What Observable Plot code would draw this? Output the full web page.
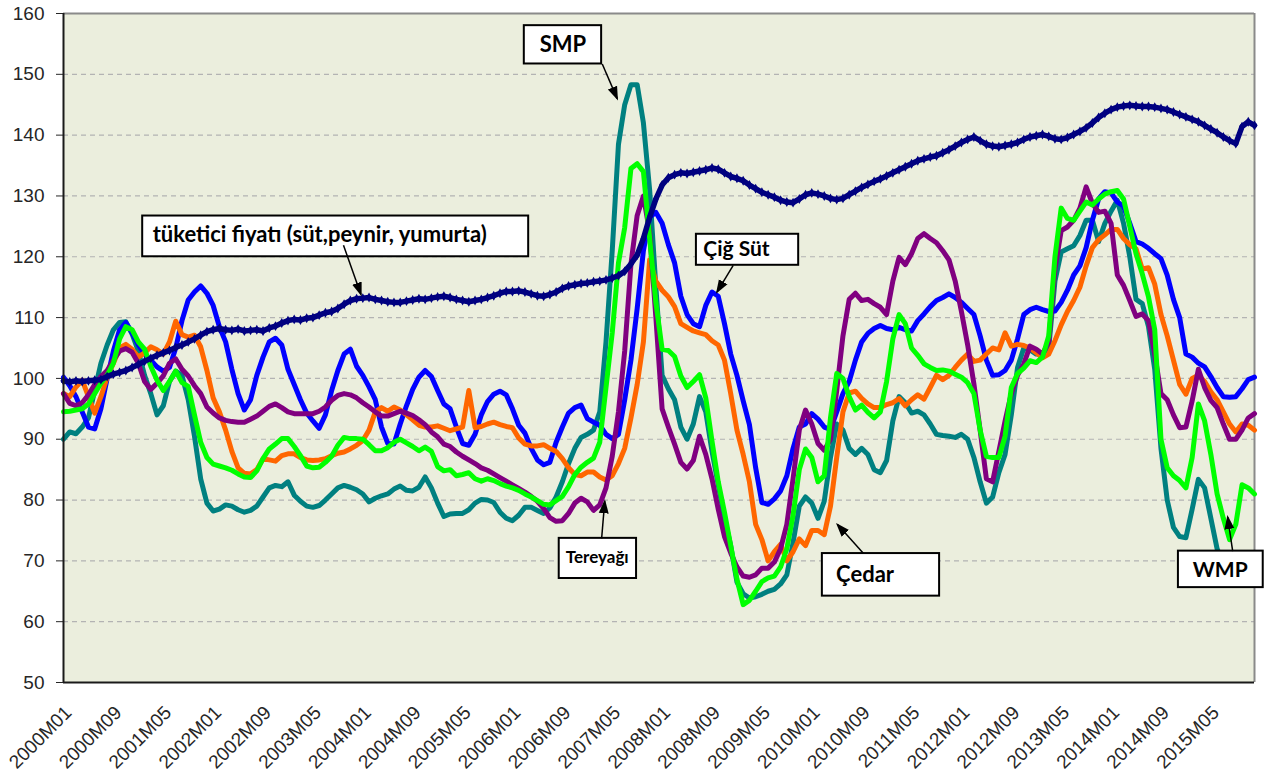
<!DOCTYPE html>
<html>
<head>
<meta charset="utf-8">
<script src="https://cdn.jsdelivr.net/npm/d3@7"></script>
<script src="https://cdn.jsdelivr.net/npm/@observablehq/plot@0.6"></script>
<style>
  html, body { margin: 0; padding: 0; background: #ffffff; }
</style>
</head>
<body>
<div id="chart"></div>
<script>
// ---- categories: monthly periods 2000M01 .. 2015M12 ----
const startYear = 2000, endYear = 2015;
const months = [];
for (let y = startYear; y <= endYear; y++) for (let m = 1; m <= 12; m++) months.push(`${y}M${String(m).padStart(2, "0")}`);

const tickLabels = ["2000M01","2000M09","2001M05","2002M01","2002M09","2003M05","2004M01","2004M09",
  "2005M05","2006M01","2006M09","2007M05","2008M01","2008M09","2009M05","2010M01","2010M09",
  "2011M05","2012M01","2012M09","2013M05","2014M01","2014M09","2015M05"];
const yTicks = [50,60,70,80,90,100,110,120,130,140,150,160];

// ---- series values ----
const tuketici = [
 99.6,99.4,99.6,99.5,99.6,99.7,99.8,100.3,100.7,101.0,101.3,101.8,
 102.3,102.8,103.3,103.8,104.2,104.6,105.1,105.5,106.0,106.5,107.1,107.7,
 108.0,108.2,108.0,107.9,108.1,107.8,107.9,108.0,107.8,108.3,108.6,109.1,
 109.5,109.7,109.6,109.9,110.0,110.4,110.8,111.0,111.5,112.2,112.8,113.1,
 113.2,113.3,113.0,112.8,112.6,112.5,112.5,112.7,112.9,113.1,113.0,113.2,
 113.4,113.5,113.3,113.0,112.8,112.6,112.8,113.0,113.3,113.6,114.0,114.3,
 114.3,114.4,114.2,113.9,113.6,113.5,113.8,114.2,114.8,115.2,115.4,115.6,
 115.7,115.9,116.0,116.2,116.5,116.9,117.6,118.8,120.3,123.0,126.5,129.5,
 131.8,133.0,133.5,133.8,133.7,133.9,134.1,134.3,134.6,134.4,133.8,133.2,
 132.9,132.5,131.8,131.2,130.6,130.2,129.8,129.3,129.0,128.9,129.5,130.2,
 130.5,130.3,130.0,129.6,129.4,129.6,130.2,130.8,131.4,131.9,132.4,132.8,
 133.3,133.8,134.3,134.8,135.3,135.8,136.1,136.4,136.6,137.1,137.6,138.2,
 138.8,139.3,139.7,139.1,138.5,138.2,138.1,138.3,138.5,138.8,139.3,139.7,
 139.9,140.1,139.8,139.4,139.3,139.6,140.1,140.6,141.2,142.0,142.9,143.6,
 144.2,144.6,144.8,144.9,144.8,144.7,144.7,144.6,144.4,144.2,143.8,143.4,
 143.0,142.6,142.2,141.6,141.0,140.4,139.7,139.1,138.6,141.4,142.2,141.6];

const cigSut = [
 100.2,98.8,97.0,94.5,92.0,91.7,95.0,100.0,104.5,108.0,109.2,107.5,
 105.5,104.0,103.0,101.9,101.2,101.8,105.0,109.5,112.9,114.2,115.2,114.0,
 112.0,108.5,106.0,101.5,97.5,94.8,96.5,100.5,103.5,106.0,106.6,105.5,
 101.5,99.0,96.5,94.3,93.0,91.8,94.0,98.0,101.3,104.0,104.8,102.0,
 100.5,98.6,96.5,92.0,89.3,89.2,92.5,95.5,98.2,100.2,101.3,100.3,
 98.0,95.8,95.0,92.0,89.3,89.0,90.8,94.0,96.2,97.4,97.9,97.3,
 95.0,92.3,91.0,88.5,86.6,85.8,86.2,89.5,92.0,94.3,95.2,95.6,
 93.4,92.8,92.3,90.8,90.1,90.8,96.5,103.0,111.5,121.0,126.5,127.3,
 125.5,122.0,119.0,113.5,110.5,109.0,108.5,112.0,114.2,113.5,109.0,104.0,
 100.5,96.3,92.4,85.3,79.6,79.3,80.2,81.5,84.0,88.5,92.0,92.5,
 94.2,93.3,92.0,91.6,94.5,97.5,99.5,103.0,106.0,107.4,108.2,108.7,
 108.2,108.0,108.4,108.0,107.8,109.5,110.6,111.8,112.8,113.3,113.9,113.3,
 112.5,111.5,110.5,107.0,103.0,100.5,100.6,101.3,103.0,106.5,110.5,111.3,
 111.7,111.3,111.0,111.1,112.5,114.5,117.0,118.5,121.5,126.0,129.5,130.7,
 130.5,129.0,128.3,125.5,122.5,122.1,121.4,120.5,119.7,117.0,113.0,110.0,
 104.0,103.5,102.5,101.9,100.3,98.5,97.0,96.9,97.0,98.3,99.8,100.2];

const smp = [
 90.0,91.2,90.9,92.0,93.5,98.0,102.5,105.5,108.0,109.2,109.3,107.3,
 104.5,100.5,97.5,94.0,95.5,99.5,101.2,100.5,96.5,90.5,83.5,79.5,
 78.2,78.5,79.2,79.0,78.4,78.0,78.3,79.0,80.5,82.0,82.4,82.2,
 83.0,80.8,79.8,79.0,78.8,79.1,80.0,81.0,82.0,82.4,82.1,81.7,
 81.0,79.7,80.3,80.7,81.0,81.8,82.3,81.6,81.5,82.1,83.8,82.0,
 79.5,77.3,77.7,77.8,77.8,78.4,79.5,80.1,80.0,79.6,78.0,77.0,
 76.6,77.5,78.8,78.8,78.3,77.8,78.7,80.5,83.0,86.0,88.5,90.3,
 90.8,91.5,94.5,106.0,121.0,138.5,145.0,148.3,148.3,142.0,131.0,115.0,
 100.5,98.3,96.5,92.0,90.0,92.5,97.0,94.5,88.0,82.5,77.0,72.5,
 66.5,64.6,63.9,64.1,64.5,65.0,65.3,66.2,67.7,73.0,79.0,80.5,
 79.5,77.0,79.8,87.0,92.5,91.5,88.5,87.5,88.5,87.5,85.0,84.5,
 86.5,93.0,97.0,96.0,94.3,94.6,94.0,92.5,90.8,90.6,90.5,90.3,
 90.8,90.0,87.0,83.0,79.5,80.5,84.5,87.5,94.0,101.8,105.0,104.7,
 104.0,104.0,105.0,116.0,120.8,121.3,121.8,123.5,126.0,126.0,122.5,125.5,
 127.5,129.3,125.5,120.0,113.0,112.3,108.5,101.5,88.5,80.0,75.5,74.0,
 73.8,78.5,83.4,82.0,77.0,72.0,69.5,68.5,68.0,68.5,69.0,69.5];

const wmp = [
 94.5,94.6,94.8,95.0,95.8,97.5,99.2,100.5,102.5,106.5,108.5,108.0,
 106.0,104.8,102.0,99.7,98.0,99.5,101.2,99.3,98.7,94.0,89.5,87.0,
 85.9,85.6,85.3,84.9,84.3,83.8,83.7,84.8,86.8,88.4,89.2,90.1,
 90.1,88.8,87.3,85.6,85.3,85.4,86.2,87.2,89.0,90.3,90.1,90.1,
 90.0,89.1,88.1,88.1,88.6,89.5,90.0,89.4,88.8,88.1,88.7,88.0,
 85.5,84.8,85.0,84.0,84.2,84.5,83.5,83.1,83.5,83.2,82.7,82.3,
 82.0,81.6,81.0,80.5,79.9,79.3,79.2,79.9,80.6,82.2,84.2,85.4,
 86.2,86.9,89.5,98.5,107.5,119.0,124.8,134.5,135.3,134.0,123.0,112.5,
 104.8,104.6,103.6,100.4,98.5,99.5,100.6,96.8,89.7,83.0,78.0,72.5,
 67.0,62.8,63.5,65.0,66.6,67.2,67.5,69.0,72.0,77.5,85.0,88.4,
 87.0,83.0,84.0,93.5,100.8,100.0,97.0,94.8,95.6,94.4,93.5,94.5,
 99.5,106.5,110.5,109.0,105.0,103.8,102.4,101.8,101.3,101.4,101.2,100.7,
 100.2,99.3,97.5,91.5,87.2,87.0,87.0,90.5,98.5,100.8,101.7,102.9,
 102.6,103.5,107.0,120.0,128.0,126.3,126.0,127.5,129.0,128.5,129.5,130.3,
 130.7,130.9,129.5,125.0,120.5,117.2,113.4,108.0,90.0,85.3,84.0,83.2,
 82.0,87.0,95.8,93.0,87.5,81.0,77.0,73.5,76.0,82.5,82.0,81.0];

const cedar = [
 97.5,97.0,98.6,99.7,97.0,94.3,97.0,100.2,102.5,105.0,105.6,104.8,
 103.5,104.2,105.2,104.7,104.0,106.0,109.4,107.2,106.8,107.1,105.2,101.3,
 96.8,94.5,91.5,88.0,85.3,84.4,84.3,85.0,86.8,86.6,86.4,87.3,
 87.6,87.6,87.0,86.6,86.5,86.6,86.8,87.3,87.7,87.9,88.4,89.0,
 89.8,91.5,94.5,95.2,94.6,95.3,94.8,94.0,93.2,92.3,92.0,92.0,
 92.2,91.8,91.4,91.7,92.0,98.0,91.9,92.1,92.5,92.8,92.4,92.1,
 91.9,90.2,89.2,88.9,88.9,89.1,88.5,88.0,86.8,85.3,84.2,84.0,
 84.6,84.6,83.8,83.3,84.0,86.0,88.5,93.5,99.0,106.0,119.5,116.0,
 114.5,113.4,111.8,109.0,108.4,107.8,107.5,107.2,106.2,105.5,103.0,97.5,
 91.5,87.5,83.0,76.0,73.5,70.0,71.5,72.7,70.0,71.5,73.6,72.5,
 75.0,75.0,74.3,79.0,87.0,94.5,97.6,97.9,96.7,95.8,95.2,95.2,
 95.7,96.0,96.7,95.5,96.5,97.3,96.6,98.5,100.5,99.8,100.5,101.8,
 103.0,104.0,102.8,103.0,104.0,105.0,104.7,107.5,105.3,105.6,105.4,105.0,
 104.2,103.4,104.0,106.2,108.8,111.0,112.8,115.0,118.5,121.5,122.8,123.6,
 124.5,124.5,123.0,122.0,121.3,118.0,118.2,115.5,110.5,107.0,103.0,99.0,
 97.4,100.0,100.5,99.5,97.8,96.5,94.5,92.5,91.2,92.5,92.3,91.5];

const tereyagi = [
 97.5,95.9,95.5,96.0,97.3,99.0,100.3,101.3,103.0,104.5,104.9,104.3,
 102.5,99.5,98.2,99.2,100.4,102.5,103.2,101.5,100.4,98.8,97.5,95.3,
 94.3,93.5,93.1,92.9,92.8,92.8,93.3,93.8,94.6,95.4,95.8,95.2,
 94.5,94.2,94.2,94.2,94.2,94.6,95.3,96.4,97.2,97.5,97.3,96.8,
 96.0,95.3,94.5,93.8,93.8,94.2,94.6,94.3,93.9,93.2,92.4,91.2,
 90.4,89.2,88.8,87.9,87.2,86.6,86.0,85.3,84.9,84.3,83.7,83.1,
 82.5,81.9,81.3,80.6,79.8,78.6,77.1,76.5,76.6,77.8,79.5,80.3,
 79.7,78.3,79.2,82.0,87.2,94.5,104.5,118.8,126.8,130.0,124.0,110.0,
 95.0,92.0,89.2,86.2,85.1,86.5,90.5,87.5,83.5,78.5,74.0,71.3,
 69.0,67.5,67.3,67.7,68.8,68.8,69.8,72.0,76.0,83.5,91.5,94.8,
 92.5,89.3,88.2,90.0,98.0,107.0,113.0,114.0,112.8,113.0,112.3,111.7,
 110.5,116.0,119.9,118.7,120.5,123.0,123.8,123.0,122.3,121.0,119.5,116.0,
 111.0,105.5,99.1,91.5,83.5,83.0,88.0,93.0,97.5,100.5,102.4,105.3,
 104.8,104.0,106.0,118.0,124.3,124.9,126.0,128.0,131.5,128.8,127.3,127.5,
 125.5,117.0,115.3,112.8,110.2,110.6,109.5,104.0,97.5,96.5,94.0,91.9,
 92.0,96.3,101.5,98.5,96.4,95.2,92.5,90.0,90.0,91.5,93.5,94.2];

// ---- styling / layout config ----
const colors = {smp:"#008080", cigSut:"#0000ff", cedar:"#ff6600", tereyagi:"#800080", wmp:"#00ff00", tuketici:"#000080"};
const notes = [
  {text:"tüketici fiyatı (süt,peynir, yumurta)", bx1:12.7, bx2:74.6, by1:120.0, by2:126.7, tx:14.3, ty:123.6, anchor:"start", fs:22, ax1:44.9, ay1:121.9, ax2:47.7, ay2:113.8},
  {text:"SMP", bx1:73.9, bx2:86.3, by1:151.7, by2:158.0, tx:80.1, ty:154.8, anchor:"middle", fs:22, ax1:86.4, ay1:151.7, ax2:88.8, ay2:146.0},
  {text:"Çiğ Süt", bx1:101.5, bx2:117.9, by1:118.6, by2:123.7, tx:102.6, ty:121.2, anchor:"start", fs:21, ax1:107.4, ay1:118.6, ax2:104.8, ay2:114.2},
  {text:"Tereyağı", bx1:79.5, bx2:91.9, by1:67.1, by2:73.7, tx:85.6, ty:70.5, anchor:"middle", fs:17, ax1:86.3, ay1:73.7, ax2:86.8, ay2:79.8},
  {text:"Çedar", bx1:121.7, bx2:140.5, by1:64.2, by2:71.2, tx:123.9, ty:67.7, anchor:"start", fs:22, ax1:128.3, ay1:71.2, ax2:124.1, ay2:76.0},
  {text:"WMP", bx1:178.8, bx2:192.4, by1:65.6, by2:71.6, tx:185.5, ty:68.5, anchor:"middle", fs:21, ax1:187.5, ay1:71.6, ax2:186.7, ay2:77.2}
];

const toRows = arr => arr.map((v, i) => ({i, v}));
const tickIdx = tickLabels.map(l => months.indexOf(l));
const gridVals = yTicks.filter(v => v > 50 && v < 160);
const lastIdx = months.length - 1;

const lineOpts = (c) => ({x: "i", y: "v", stroke: c, strokeWidth: 5, strokeLinejoin: "round", strokeLinecap: "round"});
const noteText = (anchor) => Plot.text(notes.filter(d => d.anchor === anchor), {
  x: "tx", y: "ty", text: "text", textAnchor: anchor, fontSize: d => d.fs, fontWeight: "bold",
  fontFamily: "Lato, 'Open Sans', sans-serif", fill: "black"
});

const chart = Plot.plot({
  width: 1266,
  height: 778,
  marginLeft: 63,
  marginRight: 12,
  marginTop: 13,
  marginBottom: 96,
  style: {fontFamily: "'Liberation Sans', Arial, sans-serif", fontSize: "19px", color: "#262626", background: "#ffffff", overflow: "visible"},
  x: {type: "linear", domain: [0, lastIdx], ticks: tickIdx, tickFormat: i => months[i], tickRotate: -45, tickSize: 0, tickPadding: 15, label: null},
  y: {domain: [50, 160], ticks: yTicks, tickSize: 7, tickPadding: 12, label: null},
  marks: [
    Plot.frame({fill: "#ebeedd", stroke: null}),
    Plot.ruleY(gridVals, {stroke: "#b3b3b3", strokeWidth: 1.2, strokeDasharray: "5,4"}),
    Plot.ruleY([160], {stroke: "#8a8a8a", strokeWidth: 2}),
    Plot.ruleX([lastIdx], {stroke: "#8a8a8a", strokeWidth: 2}),
    Plot.line(toRows(smp), lineOpts(colors.smp)),
    Plot.line(toRows(cigSut), lineOpts(colors.cigSut)),
    Plot.line(toRows(cedar), lineOpts(colors.cedar)),
    Plot.line(toRows(tereyagi), lineOpts(colors.tereyagi)),
    Plot.line(toRows(wmp), lineOpts(colors.wmp)),
    Plot.line(toRows(tuketici), {x: "i", y: "v", stroke: colors.tuketici, strokeWidth: 5.5, strokeLinejoin: "round"}),
    Plot.dot(toRows(tuketici), {x: "i", y: "v", symbol: "diamond", r: 3, fill: colors.tuketici, stroke: null}),
    Plot.ruleX([0], {stroke: "#1a1a1a", strokeWidth: 2}),
    Plot.ruleY([50], {stroke: "#1a1a1a", strokeWidth: 2}),
    Plot.rect(notes, {x1: "bx1", x2: "bx2", y1: "by1", y2: "by2", fill: "white", stroke: "black", strokeWidth: 2}),
    Plot.link(notes, {x1: "ax1", y1: "ay1", x2: "ax2", y2: "ay2", stroke: "black", strokeWidth: 1.5, markerEnd: "arrow"}),
    noteText("start"),
    noteText("middle")
  ]
});

// filled arrow heads
chart.querySelectorAll("marker").forEach(m => {
  m.setAttribute("viewBox", "-12 -6 16 12");
  m.setAttribute("markerUnits", "userSpaceOnUse");
  m.setAttribute("markerWidth", "16");
  m.setAttribute("markerHeight", "12");
  m.setAttribute("refX", "0");
  m.setAttribute("refY", "0");
  m.setAttribute("fill", "black");
  m.setAttribute("stroke", "none");
  m.innerHTML = '<path d="M-12,-5L2,0L-12,5Z"></path>';
});

// nudge the rotated x tick labels to sit like the reference
chart.querySelectorAll('g[aria-label^="x-axis"]').forEach(g => {
  if (g.querySelector("text")) {
    const t = g.getAttribute("transform") || "";
    g.setAttribute("transform", (t + " translate(5,12)").trim());
  }
});

document.getElementById("chart").appendChild(chart);
</script>
</body>
</html>
